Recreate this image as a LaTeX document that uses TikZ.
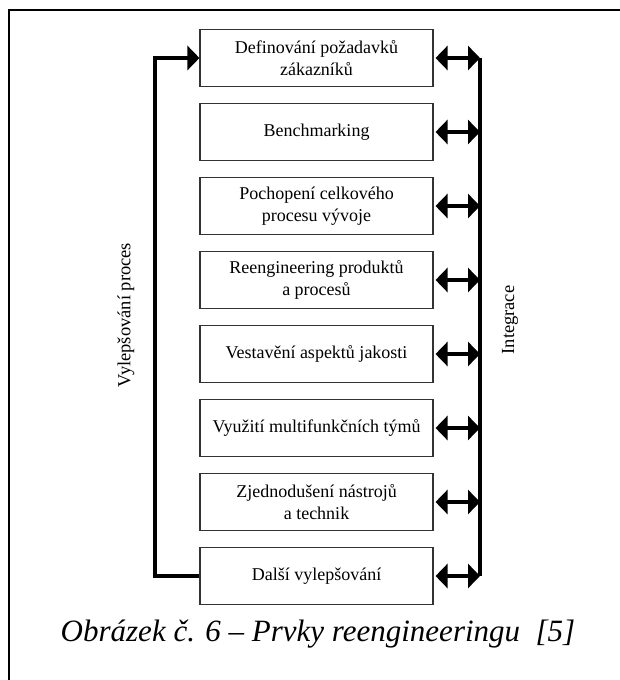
\documentclass[tikz,border=0pt]{standalone}
\usepackage{fontspec}
\setmainfont{Liberation Serif}
\usetikzlibrary{arrows.meta}
\begin{document}
\begin{tikzpicture}[x=1pt,y=-1pt,
  stepbox/.style={draw=black!80,line width=1.1pt,minimum width=233pt,minimum height=57pt,
    inner sep=0pt,align=center,font=\fontsize{18}{22}\selectfont},
  link/.style={line width=3.5pt},
  headboth/.style={link,{Triangle[length=12pt,width=24pt]}-{Triangle[length=12pt,width=24pt]}},
  headone/.style={link,-{Triangle[length=12pt,width=24pt]}},
  sidelabel/.style={rotate=90,font=\fontsize{18.5}{22}\selectfont}]
\useasboundingbox (0,0) rectangle (620,680);
% outer frame (left and top edges)
\draw[line width=2pt] (9,680) -- (9,10) -- (620,10);
% stages
\node[stepbox] (s1) at (316.5,58)  {Definování požadavků\\zákazníků};
\node[stepbox] (s2) at (316.5,132) {Benchmarking};
\node[stepbox] (s3) at (316.5,206) {Pochopení celkového\\procesu vývoje};
\node[stepbox] (s4) at (316.5,280) {Reengineering produktů\\a procesů};
\node[stepbox] (s5) at (316.5,354) {Vestavění aspektů jakosti};
\node[stepbox] (s6) at (316.5,428) {Využití multifunkčních týmů};
\node[stepbox] (s7) at (316.5,502) {Zjednodušení nástrojů\\a technik};
\node[stepbox] (s8) at (316.5,576) {Další vylepšování};
% integration bus on the right
\coordinate (bt) at (480,58);
\coordinate (bb) at (480,576);
\draw[link] (bt) -- (bb);
\foreach \i in {1,...,8}{
  \draw[headboth,shorten <=2pt] (s\i.east) -- (s\i.east -| bt);
}
% improvement loop on the left
\coordinate (lb) at (155,576);
\coordinate (lt) at (155,58);
\draw[headone,line join=miter] (s8.west) -- (lb) -- (lt) -- (s1.west);
% side labels
\node[sidelabel] (lv) at (126,315) {Vylepšování proces};
\node[sidelabel] (li) at (510,320) {Integrace};
% caption
\node[anchor=base,font=\itshape\fontsize{31}{36}\selectfont] (cap) at (318,641)
  {Obrázek č. 6 – Prvky reengineeringu\ \ [5]};
\end{tikzpicture}
\end{document}
